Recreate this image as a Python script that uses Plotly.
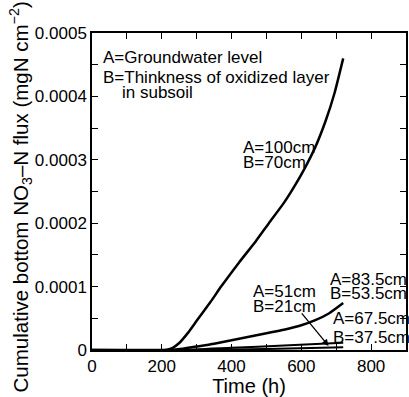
import plotly.graph_objects as go

# Data (time in h, cumulative flux in mgN cm^-2)
t_100 = [0, 200, 215, 230, 250, 275, 300, 340, 370, 420, 470, 507, 550, 580, 610, 640, 670, 695, 720]
v_100 = [0, 0, 0.0000005, 0.000003, 0.000011, 0.000027, 0.000046, 0.000076, 0.0001, 0.000137,
         0.000172, 0.0002, 0.000232, 0.000258, 0.000287, 0.00032, 0.000362, 0.000405, 0.00046]

t_835 = [0, 220, 260, 300, 350, 400, 450, 500, 550, 600, 640, 680, 720]
v_835 = [0, 0, 0.000002, 0.0000055, 0.000010, 0.0000155, 0.000021, 0.0000265,
         0.000032, 0.000039, 0.000047, 0.000058, 0.000074]

t_675 = [0, 250, 400, 550, 720]
v_675 = [0, 0, 0.0000035, 0.000007, 0.0000115]

t_51 = [0, 300, 500, 720]
v_51 = [0, 0, 0.0000015, 0.0000045]

x_ticks = [0, 200, 400, 600, 800]
y_tickvals = [0, 0.0001, 0.0002, 0.0003, 0.0004, 0.0005]
y_ticktext = ["0", "0.0001", "0.0002", "0.0003", "0.0004", "0.0005"]

FONT = "Liberation Sans"

fig = go.Figure()
for tx, vy, w in [(t_100, v_100, 2.5), (t_835, v_835, 2.5), (t_675, v_675, 2.0), (t_51, v_51, 2.0)]:
    fig.add_trace(go.Scatter(x=tx, y=vy, mode="lines",
                             line=dict(color="black", width=w, shape="spline", smoothing=0.5),
                             showlegend=False, hoverinfo="skip"))

def txt(x, y, s, xanchor="left"):
    fig.add_annotation(x=x, y=y, xref="x", yref="y", text=s, showarrow=False,
                       xanchor=xanchor, yanchor="middle", font=dict(size=17, family=FONT, color="black"))

# pixel -> data helpers for label placement (plot area 92..408 x, 33..350 y)
def px2x(p):
    return (p - 92) / 316 * 900

def py2y(p):
    return (350 - p) / 317 * 0.0005

txt(px2x(101), py2y(57), "A=Groundwater level")
txt(px2x(101), py2y(77), "B=Thinkness of oxidized layer")
txt(px2x(120), py2y(92), "in subsoil")
txt(px2x(242), py2y(147), "A=100cm")
txt(px2x(242), py2y(162), "B=70cm")
txt(px2x(252), py2y(291), "A=51cm")
txt(px2x(252), py2y(306), "B=21cm")
txt(px2x(329), py2y(279), "A=83.5cm")
txt(px2x(329), py2y(293), "B=53.5cm")
txt(px2x(333), py2y(318), "A=67.5cm")
txt(px2x(333), py2y(337), "B=37.5cm")

fig.add_annotation(x=678, y=0.0000065, xref="x", yref="y", ax=-28, ay=-34, text="",
                   showarrow=True, arrowhead=2, arrowsize=1, arrowwidth=1.3, arrowcolor="black")

# y-axis title placed as rotated text, centred at (20 px, 197 px)
fig.add_annotation(x=(20 - 92) / 316, y=(350 - 197) / 317, xref="paper", yref="paper",
                   text="Cumulative bottom NO<sub>3</sub>\u2013N flux (mgN cm<sup>\u22122</sup>)",
                   textangle=-90, showarrow=False, xanchor="center", yanchor="middle",
                   font=dict(size=20.5, family=FONT, color="black"))

axis_common = dict(showline=True, linecolor="black", linewidth=1.5, mirror="ticks",
                   ticks="inside", ticklen=6, tickwidth=1.2, tickcolor="black",
                   showgrid=False, zeroline=False,
                   tickfont=dict(size=17, family=FONT, color="black"))

fig.update_xaxes(range=[0, 900], tickvals=x_ticks,
                 minor=dict(dtick=100, tick0=0, ticks="inside", ticklen=6, tickcolor="black", tickwidth=1.2),
                 title=dict(text="Time (h)", font=dict(size=20, family=FONT, color="black"), standoff=2),
                 **axis_common)
fig.update_yaxes(range=[0, 0.0005], tickvals=y_tickvals, ticktext=y_ticktext,
                 minor=dict(dtick=0.00005, tick0=0, ticks="inside", ticklen=6, tickcolor="black", tickwidth=1.2),
                 **axis_common)

fig.update_layout(width=409, height=397, margin=dict(l=92, r=1, t=33, b=47),
                  plot_bgcolor="white", paper_bgcolor="white",
                  font=dict(family=FONT, color="black"))

fig.write_html("out.html")
